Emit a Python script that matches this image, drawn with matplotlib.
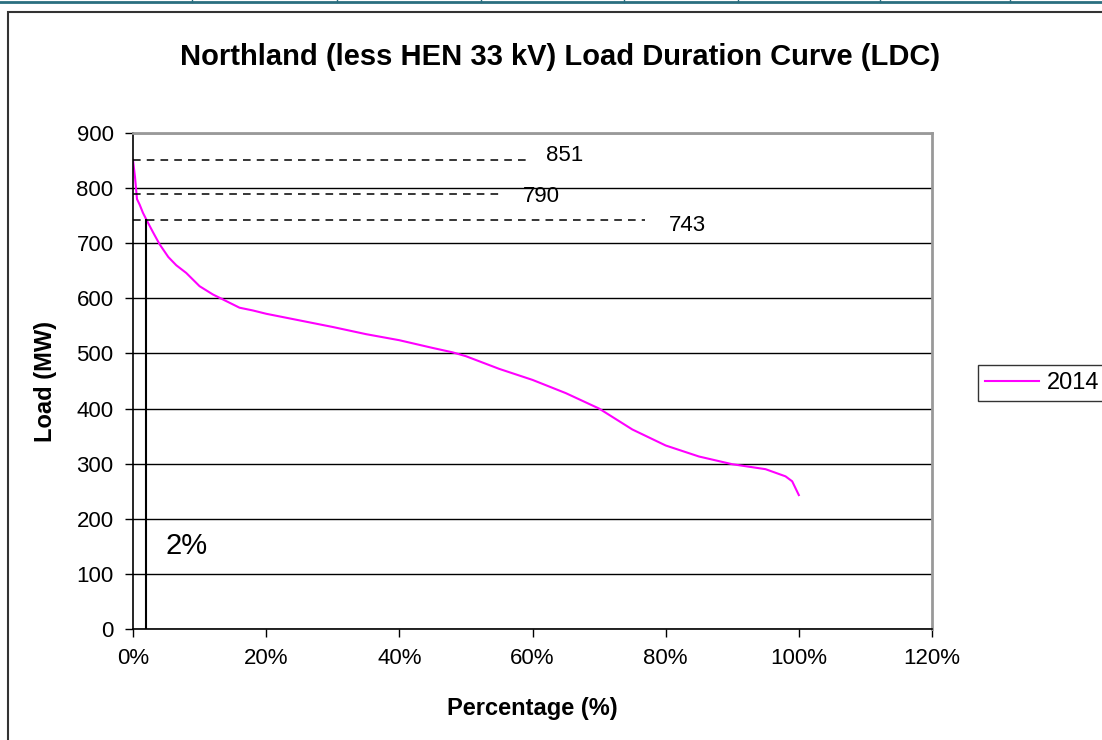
import matplotlib.pyplot as plt
from matplotlib.patches import Rectangle
from matplotlib.ticker import FuncFormatter

# load duration curve, 2014
pct = [0, 0.3, 0.6, 1, 1.5, 2, 3, 4, 5.3, 6.5, 8, 10, 12, 14, 16, 18, 20,
       25, 30, 35, 40, 45, 48, 50, 55, 60, 65, 70, 75, 80, 85, 90, 95, 98,
       99, 100]
load = [851, 820, 780, 770, 755, 743, 720, 698, 675, 660, 646, 622, 607,
        595, 583, 578, 572, 560, 548, 535, 524, 510, 502, 495, 472, 452,
        428, 400, 362, 333, 313, 299, 290, 277, 268, 243]

# reference levels and where their dashed lines stop
ref_levels = [851, 790, 743]
ref_ends = [59.3, 55.6, 76.9]
ref_label_x = [62, 58.5, 80.5]
ref_label_y = [860, 784, 733]
mark_pct = 2

plt.rcParams['font.family'] = ['Liberation Sans', 'DejaVu Sans']

fig = plt.figure(figsize=(11.02, 7.4), dpi=100)
ax = fig.add_axes([133 / 1102, 1 - 629 / 740, 799 / 1102, 496 / 740])

ax.plot(pct, load, color='#ff00ff', linewidth=1.5, label='2014')

for lvl, end, lx, ly in zip(ref_levels, ref_ends, ref_label_x, ref_label_y):
    ax.plot([0, end], [lvl, lvl], color='black', linestyle=(0, (5, 4)), linewidth=1.1)
    ax.text(lx, ly, str(lvl), fontsize=16, va='center', ha='left')

ax.plot([mark_pct, mark_pct], [0, ref_levels[2]], color='black', linewidth=1.5)
ax.text(4.9, 150, '2%', fontsize=21, va='center', ha='left')

ax.set_xlim(0, 120)
ax.set_ylim(0, 900)
ax.set_xticks(range(0, 121, 20))
ax.set_yticks(range(0, 901, 100))
ax.xaxis.set_major_formatter(FuncFormatter(lambda v, p: '%d%%' % v))
ax.yaxis.grid(True, color='black', linewidth=1.0)
ax.set_axisbelow(True)
ax.tick_params(labelsize=16, direction='out', length=6, width=1, pad=8)

for side in ['left', 'bottom']:
    ax.spines[side].set_color('black')
    ax.spines[side].set_linewidth(1.2)
for side in ['top', 'right']:
    ax.spines[side].set_color('#999999')
    ax.spines[side].set_linewidth(2)

ax.set_xlabel('Percentage (%)', fontsize=17, fontweight='bold', labelpad=20)
ax.set_ylabel('Load (MW)', fontsize=17, fontweight='bold', labelpad=14)
fig.text(560 / 1102, 1 - 57 / 740, 'Northland (less HEN 33 kV) Load Duration Curve (LDC)',
         fontsize=21, fontweight='bold', ha='center', va='center')

leg = ax.legend(loc='lower left', bbox_to_anchor=(978 / 1102, 1 - 401 / 740),
                bbox_transform=fig.transFigure, borderaxespad=0, fontsize=17,
                fancybox=False, handlelength=2.3, handletextpad=0.3,
                borderpad=0.3)
leg.get_frame().set_edgecolor('black')
leg.get_frame().set_linewidth(1)

# chart border and the table rule above it
fig.patches.append(Rectangle((8 / 1102, -0.1), 1.2, 1.1 - 12 / 740,
                             transform=fig.transFigure, fill=False,
                             edgecolor='#333333', linewidth=1.5))
fig.add_artist(plt.Line2D([0, 1], [1 - 2 / 740, 1 - 2 / 740],
                          transform=fig.transFigure, color='#2a6f80', linewidth=2))
for x in [192, 337, 481, 624, 738, 880, 1010]:
    fig.add_artist(plt.Line2D([x / 1102, x / 1102], [1 - 2 / 740, 1],
                              transform=fig.transFigure, color='#2a6f80', linewidth=1))

plt.savefig('out.png', dpi=100)
